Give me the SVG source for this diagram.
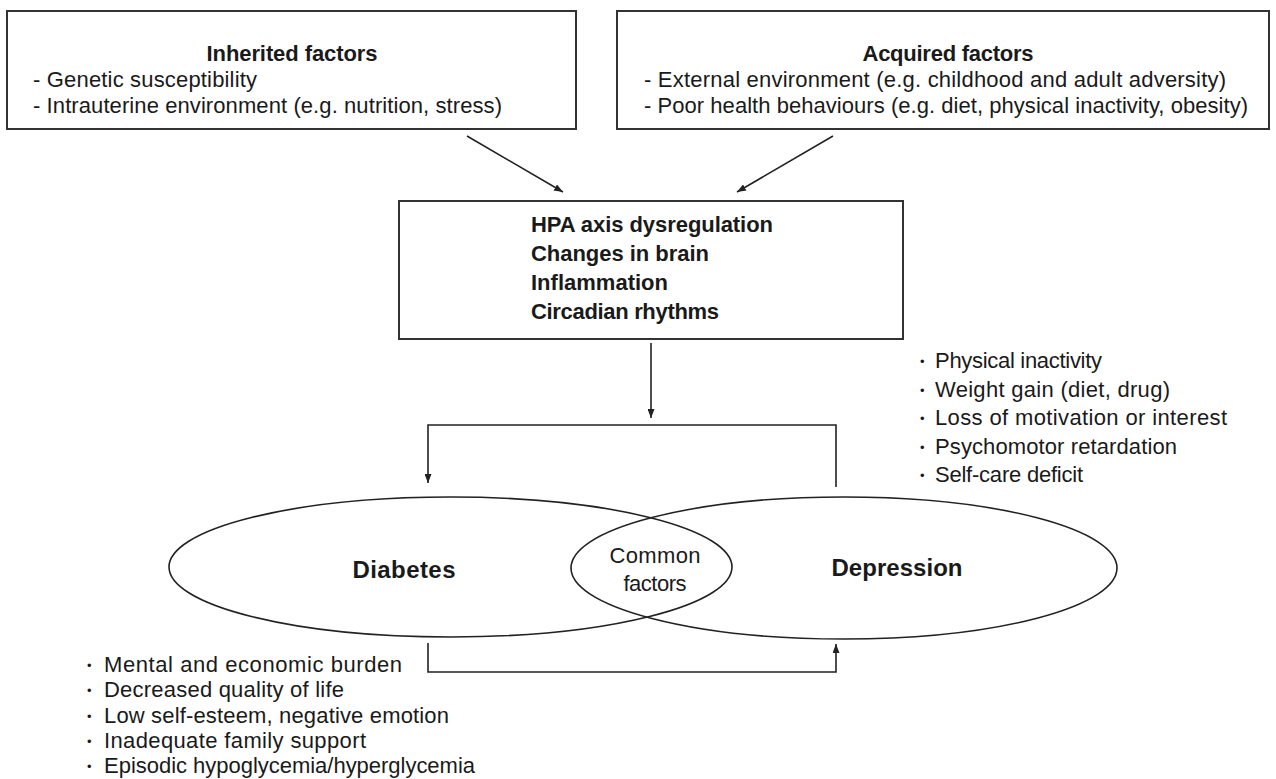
<svg xmlns="http://www.w3.org/2000/svg" width="1276" height="779" viewBox="0 0 1276 779">
<defs>
<style>
.box{fill:#fff;stroke:#333;stroke-width:2}
.ell{fill:none;stroke:#222;stroke-width:1.6}
.con{fill:none;stroke:#222;stroke-width:1.6}
.t{font-family:"Liberation Sans",Arial,sans-serif;fill:#1a1a1a}
.title{font-size:22px;font-weight:bold}
.item{font-size:22px}
.li{font-size:22px}
.bul{font-family:"Liberation Sans",Arial,sans-serif;font-size:13px;fill:#1a1a1a}
.big{font-size:24px;font-weight:bold}
.cf{font-size:22px}
</style>
<marker id="ah" markerWidth="9" markerHeight="7" refX="9" refY="3.5" orient="auto" markerUnits="userSpaceOnUse">
<path d="M0,0 L9,3.5 L0,7 z" fill="#222"/>
</marker>
</defs>
<rect width="1276" height="779" fill="#fff"/>

<g id="inherited">
<rect class="box" x="7" y="11" width="569" height="118"/>
<text class="t title" x="292" y="61" text-anchor="middle" textLength="171">Inherited factors</text>
<text class="t item" x="33" y="87" textLength="224">- Genetic susceptibility</text>
<text class="t item" x="33" y="113" textLength="469">- Intrauterine environment (e.g. nutrition, stress)</text>
</g>

<g id="acquired">
<rect class="box" x="617" y="11" width="652" height="118"/>
<text class="t title" x="948" y="61" text-anchor="middle" textLength="171">Acquired factors</text>
<text class="t item" x="644" y="87" textLength="582">- External environment (e.g. childhood and adult adversity)</text>
<text class="t item" x="644" y="113" textLength="604">- Poor health behaviours (e.g. diet, physical inactivity, obesity)</text>
</g>

<g id="mechanisms">
<rect class="box" x="399" y="201" width="504" height="138"/>
<text class="t title" x="531" y="232" textLength="242">HPA axis dysregulation</text>
<text class="t title" x="531" y="261" textLength="178">Changes in brain</text>
<text class="t title" x="531" y="290" textLength="137">Inflammation</text>
<text class="t title" x="531" y="319" textLength="188">Circadian rhythms</text>
</g>

<g id="diabetes">
<ellipse class="ell" cx="450.5" cy="567" rx="281.5" ry="70"/>
<text class="t big" x="404" y="578" text-anchor="middle" textLength="103">Diabetes</text>
</g>

<g id="depression">
<ellipse class="ell" cx="844" cy="568" rx="273" ry="71"/>
<text class="t big" x="897" y="576" text-anchor="middle" textLength="131">Depression</text>
</g>

<g id="common">
<text class="t cf" x="655" y="563" text-anchor="middle" textLength="91">Common</text>
<text class="t cf" x="655" y="591" text-anchor="middle" textLength="63">factors</text>
</g>

<g id="depression-effects">
<text class="bul" x="920" y="366">•</text><text class="t li" x="935" y="368" textLength="167">Physical inactivity</text>
<text class="bul" x="920" y="395">•</text><text class="t li" x="935" y="397" textLength="235">Weight gain (diet, drug)</text>
<text class="bul" x="920" y="423">•</text><text class="t li" x="935" y="425" textLength="292">Loss of motivation or interest</text>
<text class="bul" x="920" y="452">•</text><text class="t li" x="935" y="454" textLength="242">Psychomotor retardation</text>
<text class="bul" x="920" y="480">•</text><text class="t li" x="935" y="482" textLength="148">Self-care deficit</text>
</g>

<g id="diabetes-effects">
<text class="bul" x="87" y="670">•</text><text class="t li" x="104" y="672" textLength="298">Mental and economic burden</text>
<text class="bul" x="87" y="695">•</text><text class="t li" x="104" y="697" textLength="240">Decreased quality of life</text>
<text class="bul" x="87" y="721">•</text><text class="t li" x="104" y="723" textLength="345">Low self-esteem, negative emotion</text>
<text class="bul" x="87" y="746">•</text><text class="t li" x="104" y="748" textLength="262">Inadequate family support</text>
<text class="bul" x="87" y="771">•</text><text class="t li" x="104" y="773" textLength="371">Episodic hypoglycemia/hyperglycemia</text>
</g>

<g id="connectors">
<line class="con" x1="467" y1="136" x2="563" y2="192" marker-end="url(#ah)"/>
<line class="con" x1="833" y1="136" x2="737" y2="192" marker-end="url(#ah)"/>
<line class="con" x1="651" y1="343" x2="651" y2="418" marker-end="url(#ah)"/>
<path class="con" d="M836,487 V425 H428 V483" marker-end="url(#ah)"/>
<path class="con" d="M428,643 V672 H836 V644" marker-end="url(#ah)"/>
</g>
</svg>
